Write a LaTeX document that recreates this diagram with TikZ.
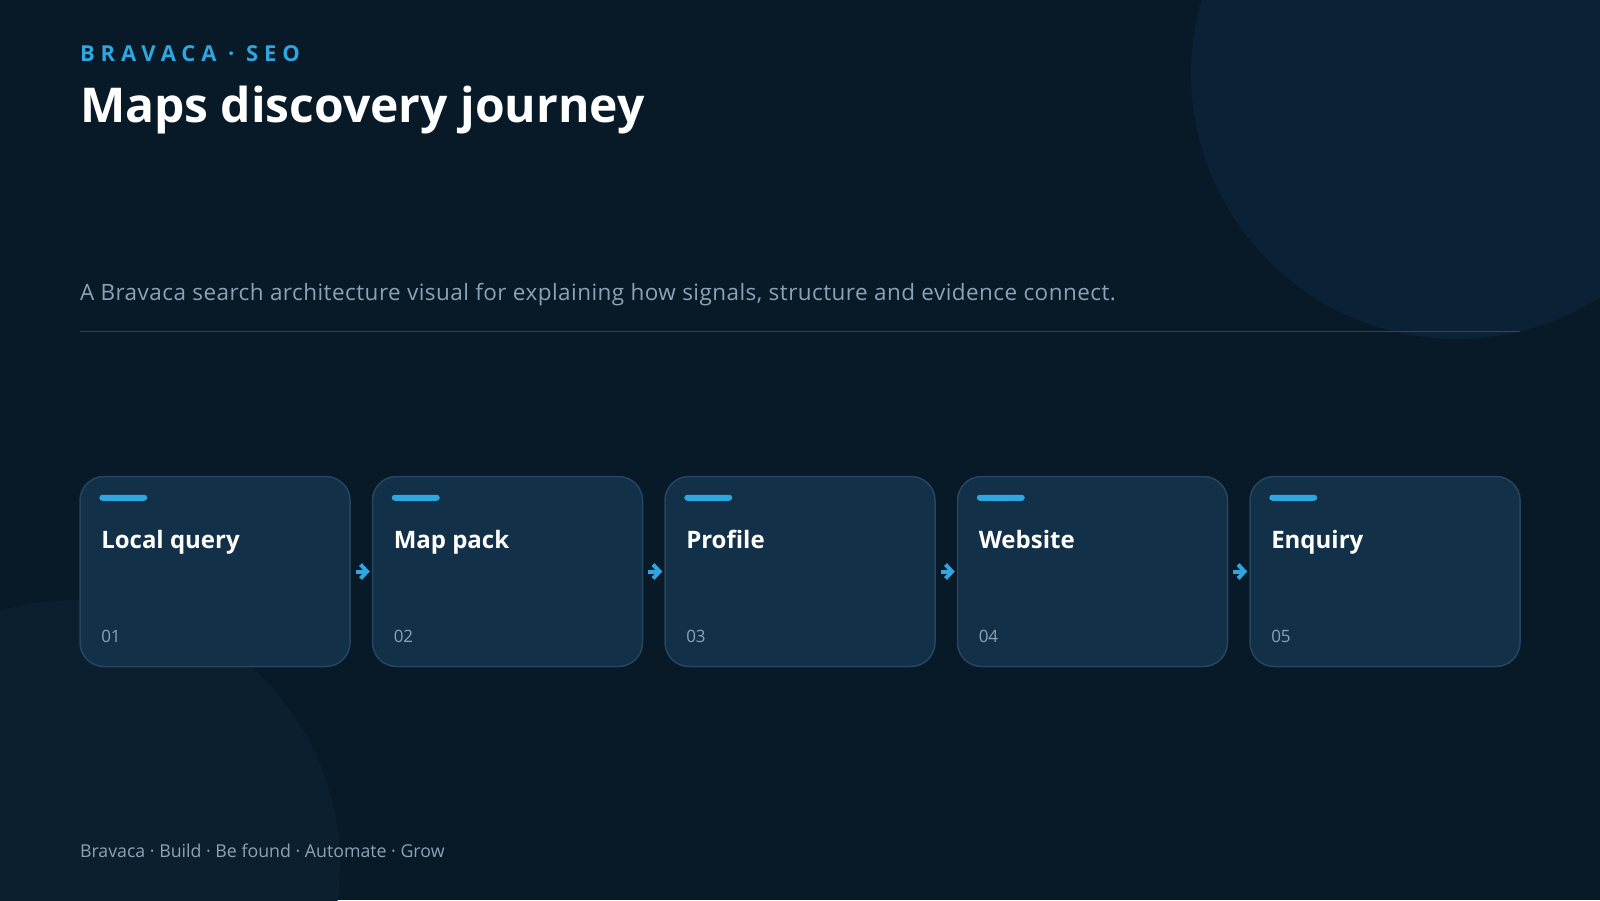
\documentclass[tikz,border=0pt]{standalone}
\usepackage{fontspec}
\setmainfont{Open Sans}
\usetikzlibrary{arrows.meta,calc}
\definecolor{bg}{RGB}{8,25,40}
\definecolor{circA}{RGB}{11,33,53}
\definecolor{circB}{RGB}{12,31,46}
\definecolor{cardfill}{RGB}{18,48,72}
\definecolor{cardline}{RGB}{38,70,96}
\definecolor{accent}{RGB}{46,166,224}
\definecolor{muted}{RGB}{140,163,182}
\definecolor{rulecol}{RGB}{40,72,98}
\tikzset{
  card/.style={draw=cardline, line width=1.5pt, fill=cardfill, rounded corners=24pt, minimum width=270pt, minimum height=190pt, inner sep=0pt},
  txt/.style={anchor=base west, inner sep=0pt, outer sep=0pt},
  cardtitle/.style={txt, text=white, font=\fontsize{24}{28}\selectfont\bfseries},
  cardnum/.style={txt, text=muted, font=\fontsize{17}{20}\selectfont},
  bar/.style={fill=accent, rounded corners=3pt},
  flow/.style={draw=accent, line width=4pt, -{Straight Barb[length=6.5pt,width=14pt,line width=4pt]}, shorten <=5pt, shorten >=2pt}
}
\begin{document}
\begin{tikzpicture}[x=1pt,y=-1pt]
\useasboundingbox (0,0) rectangle (1600,900);
\fill[bg] (0,0) rectangle (1600,900);
\begin{scope}
\clip (0,0) rectangle (1600,900);
\fill[circA] (1457,73) circle (266);
\fill[circB] (75,865) circle (265);
\end{scope}
\node[txt, text=accent, font=\fontsize{22}{26}\selectfont\bfseries\addfontfeature{LetterSpace=27}] (kicker) at (80,61) {BRAVACA · SEO};
\node[txt, text=white, font=\fontsize{48}{56}\selectfont\bfseries] (title) at (80,122) {Maps discovery journey};
\node[txt, text=muted, font=\fontsize{22.5}{27}\selectfont\addfontfeature{LetterSpace=2}] (sub) at (80,300) {A Bravaca search architecture visual for explaining how signals, structure and evidence connect.};
\coordinate (r1) at (80,331.5);
\coordinate (r2) at (1520,331.5);
\draw[rulecol, line width=1.5pt] (r1) -- (r2);
\foreach \i/\t in {1/Local query,2/Map pack,3/Profile,4/Website,5/Enquiry}{
  \node[card] (c\i) at ({215+(\i-1)*292.5},571.5) {};
  \fill[bar] ($(c\i.north west)+(20,19)$) rectangle ($(c\i.north west)+(68,25)$);
  \node[cardtitle] (t\i) at ($(c\i.north west)+(22,73)$) {\t};
  \node[cardnum] (n\i) at ($(c\i.north west)+(22,166.5)$) {0\i};
}
\foreach \a/\b in {1/2,2/3,3/4,4/5}{
  \draw[flow] (c\a.east) -- (c\b.west);
}
\node[txt, text=muted, font=\fontsize{17.75}{21}\selectfont] (foot) at (80,857) {Bravaca · Build · Be found · Automate · Grow};
\end{tikzpicture}
\end{document}
